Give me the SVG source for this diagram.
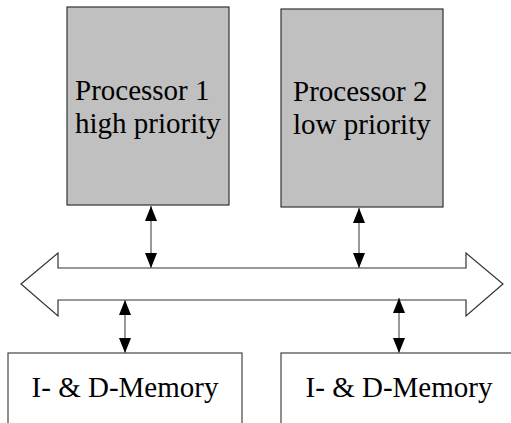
<svg xmlns="http://www.w3.org/2000/svg" width="511" height="423" viewBox="0 0 511 423">
<style>
.proc{fill:#c0c0c0;stroke:#333;stroke-width:1.2}
.mem{fill:#fff;stroke:#444;stroke-width:1.2}
.t{font-family:"Liberation Serif",serif;font-size:29px;fill:#000}
.c{stroke:#777;stroke-width:1.5;fill:none;marker-start:url(#ah);marker-end:url(#ah)}
</style>
<defs>
<marker id="ah" viewBox="0 0 15 12" refX="15" refY="6" markerWidth="15" markerHeight="12" markerUnits="userSpaceOnUse" orient="auto-start-reverse">
<path d="M0,0 L15,6 L0,12 Z" fill="#000"/>
</marker>
</defs>
<rect width="511" height="423" fill="#fff"/>
<g id="bus">
<path d="M21,284 L58,253 L58,268 L466,268 L466,253 L503,284 L466,316 L466,300 L58,300 L58,316 Z" fill="#fff" stroke="#333" stroke-width="1.2"/>
</g>
<g id="processor1">
<rect class="proc" x="67" y="7" width="162" height="198"/>
<text class="t" x="75" y="100">Processor 1</text>
<text class="t" x="75" y="133">high priority</text>
</g>
<g id="processor2">
<rect class="proc" x="281" y="9" width="162" height="198"/>
<text class="t" x="293" y="101">Processor 2</text>
<text class="t" x="293" y="134">low priority</text>
</g>
<g id="memory1">
<rect class="mem" x="8" y="353" width="234" height="80"/>
<text class="t" x="125" y="397" text-anchor="middle">I- &amp; D-Memory</text>
</g>
<g id="memory2">
<rect class="mem" x="281" y="353" width="240" height="80"/>
<text class="t" x="399" y="397" text-anchor="middle">I- &amp; D-Memory</text>
</g>
<g id="connectors">
<line class="c" x1="151" y1="206" x2="151" y2="268"/>
<line class="c" x1="359" y1="208" x2="359" y2="268"/>
<line class="c" x1="125" y1="300" x2="125" y2="353"/>
<line class="c" x1="399" y1="298" x2="399" y2="353"/>
</g>
</svg>
